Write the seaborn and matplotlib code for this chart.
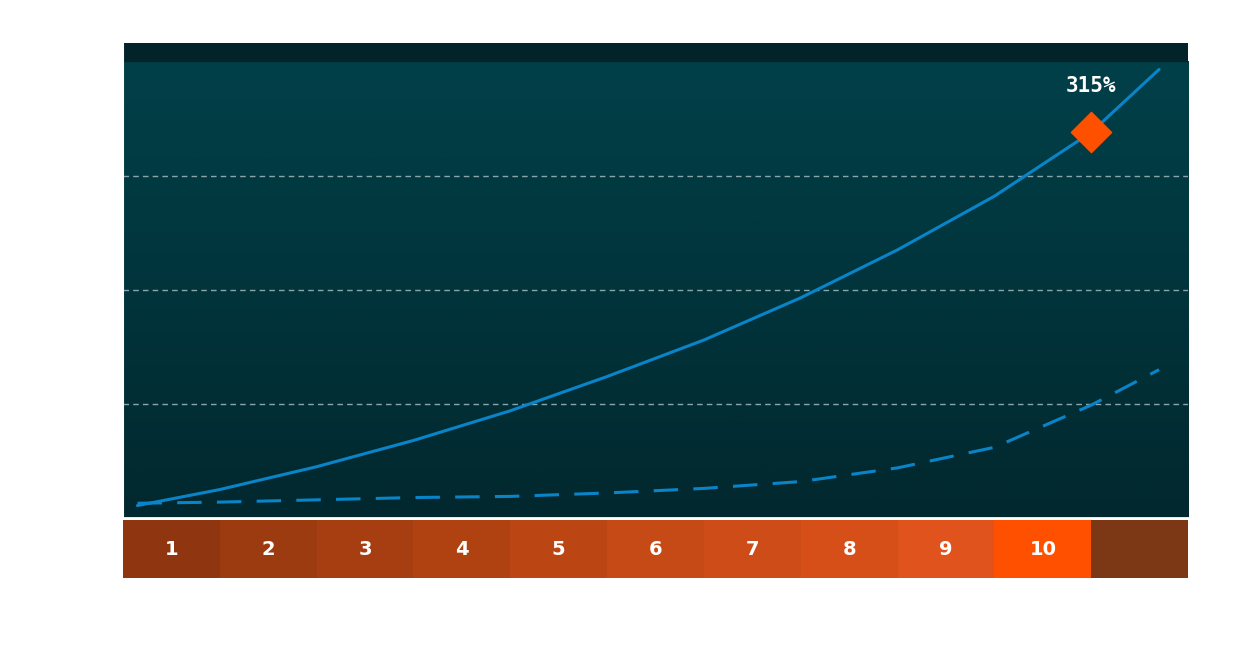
import numpy as np
import matplotlib
matplotlib.use("Agg")
import matplotlib.pyplot as plt
import seaborn as sns
import pandas as pd
from matplotlib.colors import LinearSegmentedColormap

sns.set_theme(style="white")
plt.rcParams['font.family'] = ['DejaVu Sans']

x_vals = [0.15, 1, 2, 3, 4, 5, 6, 7, 8, 9, 10, 10.7]
solid_vals = [11, 25, 45, 68, 94, 124, 156, 193, 235, 282, 338, 393]
dashed_vals = [13, 14, 16, 18, 19, 22, 26, 32, 44, 62, 99, 130]
marker_x, marker_y, marker_label = 10, 338, "315%"
cell_labels = ["1", "2", "3", "4", "5", "6", "7", "8", "9", "10", ""]
cell_colors = ["#8f3510", "#9c3a10", "#a63e11", "#b04212", "#bc4613", "#c64a15",
               "#ce4c17", "#d64f19", "#e0531c", "#ff5000", "#7c3814"]

fig = plt.figure(figsize=(12.52, 6.46), dpi=100)
fig.patch.set_facecolor("white")
ax = fig.add_axes([0.0982, 0.198, 0.8508, 0.7352])
ax.set_xlim(0, 11)
ax.set_ylim(0, 400 + 16)
grad = np.linspace(0, 1, 256).reshape(-1, 1)
cmap = LinearSegmentedColormap.from_list("bg", ["#01282e", "#014049"])
ax.imshow(grad, aspect="auto", cmap=cmap, origin="lower", extent=[0, 11, 0, 400], zorder=0)
ax.axhspan(400, 416, color="#022329", zorder=0)
for g in [100, 200, 300]:
    ax.axhline(g, color="#8aa6aa", lw=1, ls=(0, (4, 3)), zorder=1)

df = pd.DataFrame({"x": x_vals, "solid": solid_vals, "dashed": dashed_vals})
sns.lineplot(data=df, x="x", y="solid", ax=ax, color="#0a84c8", lw=2.2, zorder=3)
sns.lineplot(data=df, x="x", y="dashed", ax=ax, color="#0a84c8", lw=2.2, zorder=3)
ax.lines[-1].set_dashes([8, 5])
ax.scatter([marker_x], [marker_y], marker="D", s=420, color="#ff5000", zorder=4)
ax.text(marker_x, marker_y + 32, marker_label, color="white", fontsize=15,
        fontweight="bold", family="DejaVu Sans Mono", ha="center", va="bottom", zorder=5)
ax.set_xlabel(""); ax.set_ylabel("")
ax.set_xticks([]); ax.set_yticks([])
for s in ["top", "right"]:
    ax.spines[s].set_visible(False)
ax.spines["left"].set_color("white"); ax.spines["bottom"].set_color("white")
ax.spines["left"].set_linewidth(1.5); ax.spines["bottom"].set_linewidth(2)

bx = fig.add_axes([0.0982, 0.105, 0.8508, 0.0898])
bx.set_xlim(0, 11); bx.set_ylim(0, 1)
for i, (lab, c) in enumerate(zip(cell_labels, cell_colors)):
    bx.axvspan(i, i + 1, color=c, lw=0)
    bx.text(i + 0.5, 0.5, lab, color="white", fontsize=14, fontweight="bold",
            ha="center", va="center")
bx.set_xticks([]); bx.set_yticks([])
for s in bx.spines.values():
    s.set_visible(False)

fig.savefig("out.png", dpi=100)
